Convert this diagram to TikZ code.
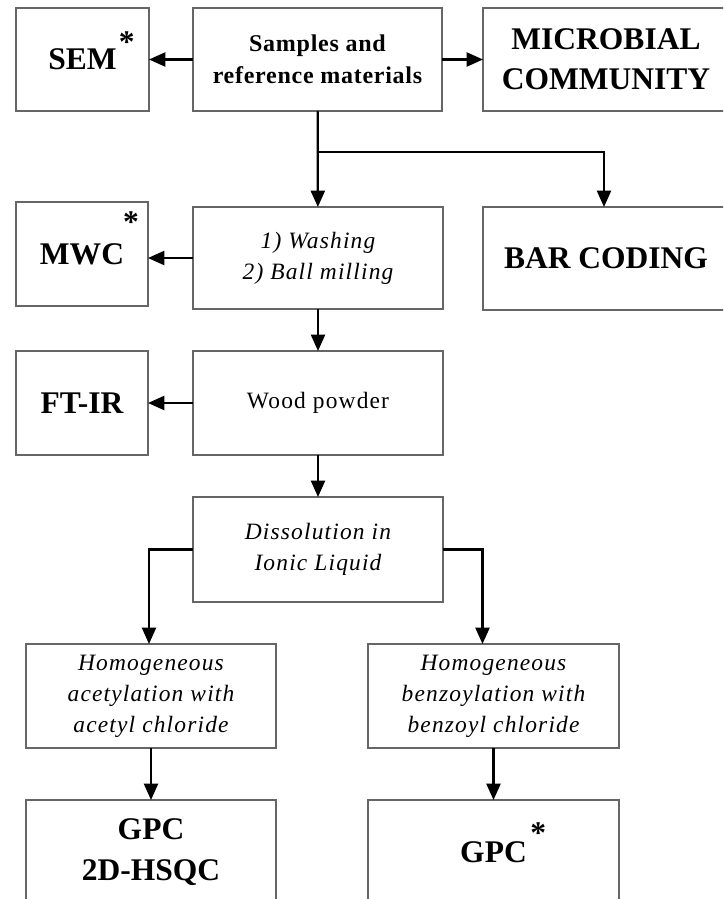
\documentclass[tikz,border=0pt]{standalone}
\usepackage{fontspec}
\setmainfont{Liberation Serif}
\newfontfamily\spacedfont{Liberation Serif}[LetterSpace=5]
\newfontfamily\lightspaced{Liberation Serif}[LetterSpace=3]
\usepackage{tikz}
\usetikzlibrary{arrows.meta}
\newlength\pxl
\setlength\pxl{0.03cm}
\tikzset{edge/.style = {draw, line width=1.9pt, -{Triangle[length=14pt,width=12pt]}}}

\begin{document}
\begin{tikzpicture}[x=0.03cm, y=-0.03cm,
  box/.style={draw=black!60, line width=1.1pt, rectangle, align=center, inner sep=0pt, outer sep=0pt},
  big/.style={box, font=\fontsize{26.9}{34}\selectfont\bfseries},
  mid/.style={box, font=\lightspaced\fontsize{20.5}{27.3}\selectfont\bfseries},
  proc/.style={box, font=\spacedfont\fontsize{20}{26.5}\selectfont\itshape},
  plain/.style={box, font=\spacedfont\fontsize{20}{26.5}\selectfont}]
    \clip (0,0) rectangle (723,899);

    % top row
    \node[big, minimum width=133*\pxl, minimum height=103*\pxl] (sem) at (82.5,59.5) {SEM\rlap{\hspace{2pt}\raisebox{15pt}[0pt][0pt]{*}}};
    \node[mid, minimum width=249*\pxl, minimum height=103*\pxl] (samples) at (317.5,59.5) {Samples and\\reference materials};
    \node[big, minimum width=246*\pxl, minimum height=103*\pxl] (microbial) at (606,59.5) {MICROBIAL\\COMMUNITY};

    % second row
    \node[big, minimum width=132*\pxl, minimum height=104*\pxl,
          label={[anchor=north east, inner sep=0pt, xshift=-9*\pxl, yshift=-9*\pxl, font=\fontsize{26.9}{34}\selectfont\bfseries]north east:*}]
          (mwc) at (82,254) {MWC};
    \node[proc, minimum width=250*\pxl, minimum height=102*\pxl] (washing) at (318,258) {1) Washing\\2) Ball milling};
    \node[big, minimum width=246*\pxl, minimum height=103*\pxl] (barcoding) at (606,258.5) {BAR CODING};

    % third row
    \node[big, minimum width=132*\pxl, minimum height=104*\pxl] (ftir) at (82,403) {FT-IR};
    \node[plain, minimum width=250*\pxl, minimum height=104*\pxl] (wood) at (318,403) {Wood powder};

    \node[proc, minimum width=250*\pxl, minimum height=105*\pxl] (diss) at (318,549.5) {Dissolution in\\Ionic Liquid};

    \node[proc, minimum width=250*\pxl, minimum height=104*\pxl] (acet) at (151,696) {Homogeneous\\acetylation with\\acetyl chloride};
    \node[proc, minimum width=251*\pxl, minimum height=104*\pxl] (benz) at (493.5,696) {Homogeneous\\benzoylation with\\benzoyl chloride};

    \node[big, minimum width=250*\pxl, minimum height=104*\pxl, font=\fontsize{26.9}{35}\selectfont\bfseries] (gpcl) at (151,852) {GPC\\2D-HSQC};
    \node[big, minimum width=251*\pxl, minimum height=104*\pxl] (gpcr) at (493.5,852) {GPC\rlap{\hspace{3pt}\raisebox{16pt}[0pt][0pt]{*}}};

    \coordinate (fork) at (317.5,152);

    \path[edge]
        (samples) edge (sem)
        (samples) edge (microbial)
        (samples) edge (washing)
        (washing) edge (wood)
        (wood) edge (ftir)
        (wood) edge (diss)
        (acet) edge (gpcl)
        (benz) edge (gpcr);
    \draw[edge] (fork) -| ([xshift=-2*\pxl]barcoding.north);
    \draw[edge] (washing.west) -- (washing.west -| mwc.east);
    \draw[edge] (diss.west) -| ([xshift=-2*\pxl]acet.north);
    \draw[edge] (diss.east) -| ([xshift=-11*\pxl]benz.north);
    %\draw[edge] (diss.east) -| (benz);
\end{tikzpicture}
\end{document}
